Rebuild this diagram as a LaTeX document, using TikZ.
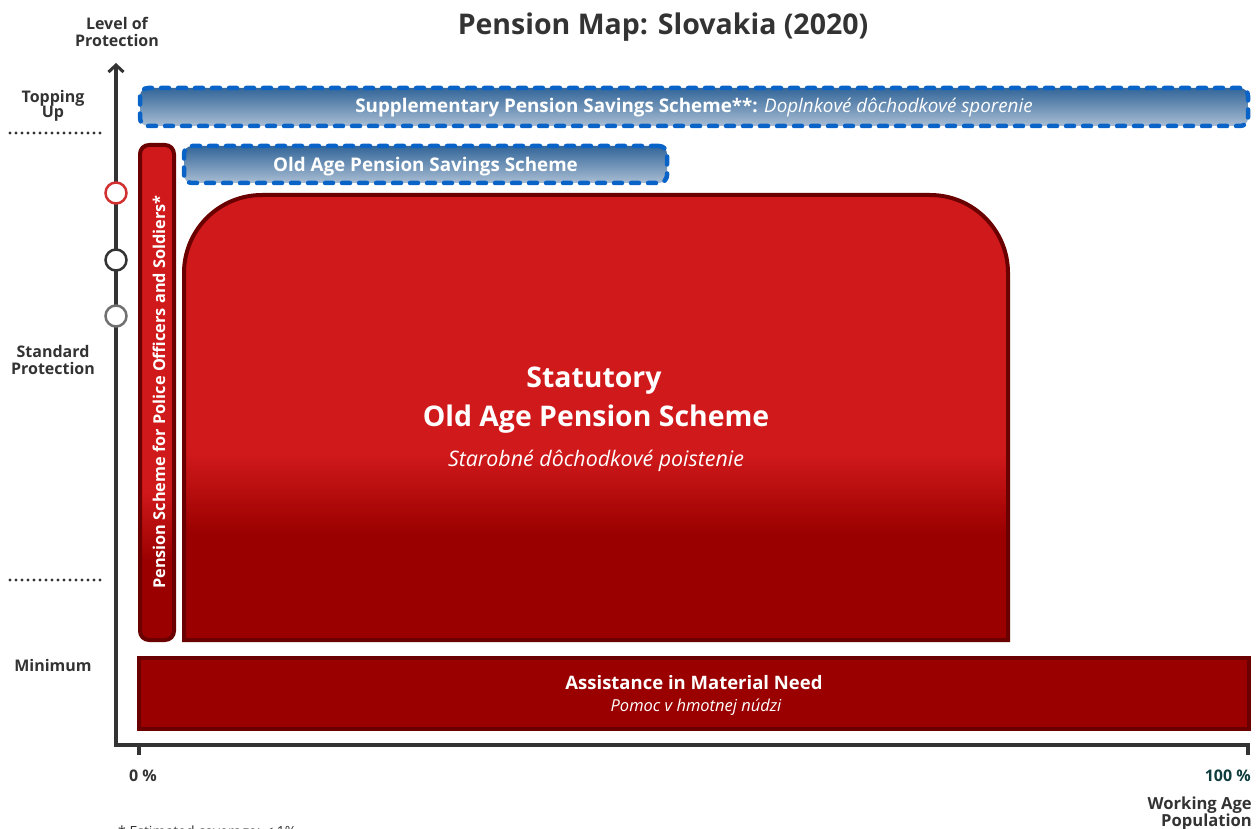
\documentclass[tikz,border=0pt]{standalone}
\usepackage{fontspec}
\setmainfont{Open Sans}
\usetikzlibrary{arrows.meta}
\definecolor{txt}{HTML}{333333}
\definecolor{bred}{HTML}{D0191B}
\definecolor{dred}{HTML}{9B0000}
\definecolor{bord}{HTML}{6B0000}
\definecolor{btop}{HTML}{336699}
\definecolor{bbot}{HTML}{A9BDD3}
\definecolor{bdash}{HTML}{0A64C8}
\definecolor{teal}{HTML}{0F3D3D}
\definecolor{cred}{HTML}{D03030}
\definecolor{cgray}{HTML}{707070}
\pgfdeclareverticalshading{statsh}{100bp}{color(0bp)=(dred); color(37bp)=(dred); color(46bp)=(bred); color(100bp)=(bred)}
\pgfdeclareverticalshading{polsh}{100bp}{color(0bp)=(dred); color(33bp)=(dred); color(40bp)=(bred); color(100bp)=(bred)}
\newcommand{\fs}[1]{\fontsize{#1}{#1}\selectfont}
\begin{document}
\begin{tikzpicture}[x=1pt,y=-1pt,
  lbl/.style={font=\bfseries\fs{16}, text=txt, inner sep=0pt},
  axisline/.style={draw=txt, line width=3.5pt},
  dotline/.style={draw=txt, line width=3.2pt, line cap=round, dash pattern=on 0pt off 6pt},
  bluebox/.style={draw=bdash, line width=4.5pt, dash pattern=on 8pt off 9pt, line cap=round, rounded corners=8pt, top color=btop, bottom color=bbot, inner sep=0pt},
  redbox/.style={draw=bord, line width=4pt},
  wtxt/.style={text=white, inner sep=0pt},
  axcirc/.style={circle, fill=white, line width=2.5pt, minimum size=21pt, inner sep=0pt}]
\useasboundingbox (0,0) rectangle (1260,829);
% title
\node[font=\bfseries\fs{28.5}, text=txt] (title) at (663,27) {Pension Map: Slovakia (2020)};
% axis labels
\node[lbl] (lvl1) at (117,23) {Level of};
\node[lbl] (lvl2) at (117,41) {Protection};
\node[lbl] (top1) at (53,98) {Topping};
\node[lbl] (top2) at (53,114) {Up};
\node[lbl] (std1) at (53,351) {Standard};
\node[lbl] (std2) at (53,368) {Protection};
\node[lbl] (min) at (53,665) {Minimum};
% dotted separators
\coordinate (d1a) at (10,133); \coordinate (d1b) at (103,133);
\coordinate (d2a) at (10,580); \coordinate (d2b) at (103,580);
\draw[dotline] (d1a) -- (d1b);
\draw[dotline] (d2a) -- (d2b);
% axes
\coordinate (origin) at (116,745);
\coordinate (ytop) at (116,63);
\coordinate (xend) at (1248,745);
\coordinate (xendtick) at (1248,755);
\coordinate (t0a) at (139,745); \coordinate (t0b) at (139,755);
\draw[axisline, line join=miter, -{Straight Barb[length=7pt,width=15pt,line width=3pt]}] (xendtick) -- (xend) -- (origin) -- (ytop);
\draw[axisline] (t0a) -- (t0b);
% circles
\node[axcirc, draw=cred] (c1) at (116,193) {};
\node[axcirc, draw=txt] (c2) at (116,260) {};
\node[axcirc, draw=cgray] (c3) at (116,316) {};
% supplementary
\node[bluebox, minimum width=1108pt, minimum height=38pt] (supp) at (694,107) {};
\node[wtxt, font=\fs{18.8}] (supptxt) at (694,107.5) {\textbf{Supplementary Pension Savings Scheme**:} \textit{Doplnkové dôchodkové sporenie}};
% old age savings
\node[bluebox, minimum width=483pt, minimum height=37pt] (oass) at (425.5,164.5) {};
\node[wtxt, font=\bfseries\fs{18.8}] (oasstxt) at (425.5,166.5) {Old Age Pension Savings Scheme};
% police
\node[redbox, rounded corners=9pt, shading=polsh, minimum width=34pt, minimum height=495pt, inner sep=0pt] (police) at (157,392.5) {};
\node[wtxt, font=\bfseries\fs{16.3}, rotate=90] (policetxt) at (159,392) {Pension Scheme for Police Officers and Soldiers*};
% statutory
\path[shading=statsh] (184,640) -- (184,273) arc[start angle=180, end angle=270, radius=78] -- (930,195) arc[start angle=270, end angle=360, radius=78] -- (1008,640) -- cycle;
\draw[redbox] (184,640) -- (184,273) arc[start angle=180, end angle=270, radius=78] -- (930,195) arc[start angle=270, end angle=360, radius=78] -- (1008,640) -- cycle;
\node[wtxt, font=\bfseries\fs{28.4}] (stat1) at (594,381) {Statutory};
\node[wtxt, font=\bfseries\fs{28.4}] (stat2) at (596,419) {Old Age Pension Scheme};
\node[wtxt, font=\itshape\fs{21.4}] (stat3) at (596,461) {Starobné dôchodkové poistenie};
% assistance
\node[redbox, fill=dred, minimum width=1110pt, minimum height=71pt, inner sep=0pt] (assist) at (694,693.5) {};
\node[wtxt, font=\bfseries\fs{18.5}] (assist1) at (694,683) {Assistance in Material Need};
\node[wtxt, font=\itshape\fs{16.5}] (assist2) at (696,707) {Pomoc v hmotnej núdzi};
% x labels
\node[lbl, font=\bfseries\fs{16}] (p0) at (143,776) {0 \%};
\node[lbl, font=\bfseries\fs{16}, text=teal, anchor=east] (p100) at (1251,776) {100 \%};
\node[lbl, font=\bfseries\fs{16.6}, anchor=east] (wa1) at (1252,805) {Working Age};
\node[lbl, font=\bfseries\fs{16.6}, anchor=east] (wa2) at (1252,822) {Population};
\node[font=\fs{14}, text=txt, anchor=west, inner sep=0pt] (foot) at (118,833) {* Estimated coverage: < 1\%};
\end{tikzpicture}
\end{document}
